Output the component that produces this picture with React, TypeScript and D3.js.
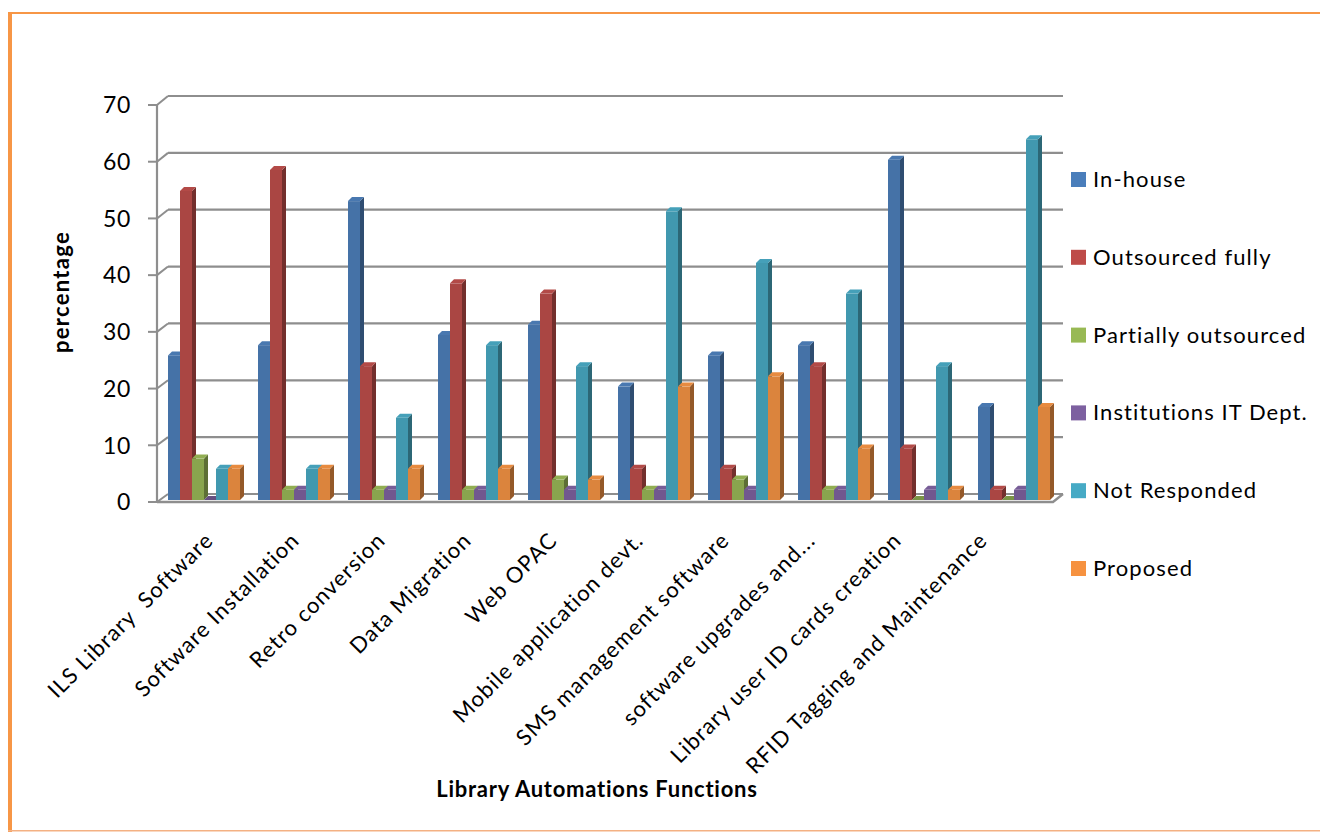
import React, { useEffect, useRef } from "react";
import * as d3 from "d3";

const categories = [
  "ILS Library  Software",
  "Software Installation",
  "Retro conversion",
  "Data Migration",
  "Web OPAC",
  "Mobile application devt.",
  "SMS management software",
  "software upgrades and...",
  "Library user ID cards creation",
  "RFID Tagging and Maintenance",
];

const seriesNames = [
  "In-house",
  "Outsourced fully",
  "Partially outsourced",
  "Institutions IT Dept.",
  "Not Responded",
  "Proposed",
];

const inHouse = [25.5, 27.3, 52.7, 29.1, 30.9, 20.0, 25.5, 27.3, 60.0, 16.4];
const outsourcedFully = [54.5, 58.2, 23.6, 38.2, 36.4, 5.5, 5.5, 23.6, 9.1, 1.8];
const partiallyOutsourced = [7.3, 1.8, 1.8, 1.8, 3.6, 1.8, 3.6, 1.8, 0, 0];
const institutionsIT = [0, 1.8, 1.8, 1.8, 1.8, 1.8, 1.8, 1.8, 1.8, 1.8];
const notResponded = [5.5, 5.5, 14.5, 27.3, 23.6, 50.9, 41.8, 36.4, 23.6, 63.6];
const proposed = [5.5, 5.5, 5.5, 5.5, 3.6, 20.0, 21.8, 9.1, 1.8, 16.4];

const yTicks = [0, 10, 20, 30, 40, 50, 60, 70];

const seriesValues = [inHouse, outsourcedFully, partiallyOutsourced, institutionsIT, notResponded, proposed];
const frontColors = ["#4572A7", "#AA4643", "#89A54E", "#71588F", "#4198AF", "#DB843D"];
const legendColors = ["#4A7EBB", "#BE4B48", "#98B954", "#7D60A0", "#46AAC5", "#F69240"];

const FONT = "Lato, 'Open Sans', sans-serif";

export default function App() {
  const ref = useRef<SVGSVGElement | null>(null);

  useEffect(() => {
    const svg = d3.select(ref.current);
    svg.selectAll("*").remove();

    // page frame
    svg.append("rect").attr("x", 0).attr("y", 0).attr("width", 1320).attr("height", 832).attr("fill", "#ffffff");
    svg.append("line").attr("x1", 8).attr("x2", 1320).attr("y1", 13).attr("y2", 13).attr("stroke", "#F79646").attr("stroke-width", 2);
    svg.append("line").attr("x1", 10).attr("x2", 10).attr("y1", 12).attr("y2", 832).attr("stroke", "#F79646").attr("stroke-width", 4);
    svg.append("line").attr("x1", 8).attr("x2", 1320).attr("y1", 830.8).attr("y2", 830.8).attr("stroke", "#F4B183").attr("stroke-width", 1.5);

    // 3D geometry
    const axisX = 157;
    const backX = 168;
    const backRight = 1063;
    const floorFront = 502;
    const depthDx = 11;

    const yFront = d3.scaleLinear().domain([0, 70]).range([502, 105]);
    const yBack = d3.scaleLinear().domain([0, 70]).range([494, 96]);
    const yBar = d3.scaleLinear().domain([0, 70]).range([500, 103]);

    const x0 = d3.scaleBand<string>().domain(categories).range([159, 1059]).paddingInner(0.2).paddingOuter(0.1);
    const x1 = d3.scaleBand<string>().domain(seriesNames).range([0, x0.bandwidth()]);
    // category labels sit on the projected front edge of the floor
    const xLabel = d3.scalePoint<string>().domain(categories).range([205, 979]);

    const gridColor = "#8E8E8E";
    const g = svg.append("g");

    // back wall gridlines
    g.selectAll("line.grid")
      .data(yTicks)
      .join("line")
      .attr("class", "grid")
      .attr("x1", backX)
      .attr("x2", backRight)
      .attr("y1", (d) => yBack(d))
      .attr("y2", (d) => yBack(d))
      .attr("stroke", gridColor)
      .attr("stroke-width", 2.2);

    // connectors from the front axis to the back wall
    g.selectAll("path.conn")
      .data(yTicks)
      .join("path")
      .attr("class", "conn")
      .attr("d", (d) => `M${axisX},${yFront(d)} L${backX},${yBack(d)}`)
      .attr("stroke", gridColor)
      .attr("stroke-width", 2)
      .attr("fill", "none");

    // floor
    g.append("path")
      .attr("d", `M${axisX},${floorFront} L${backRight - depthDx + 1},${floorFront} L${backRight},${yBack(0)}`)
      .attr("stroke", gridColor)
      .attr("stroke-width", 2.4)
      .attr("fill", "none");

    // front value axis
    g.append("line")
      .attr("x1", axisX).attr("x2", axisX)
      .attr("y1", yFront(70)).attr("y2", floorFront)
      .attr("stroke", gridColor).attr("stroke-width", 2.2);
    g.selectAll("line.tick")
      .data(yTicks)
      .join("line")
      .attr("class", "tick")
      .attr("x1", axisX - 9).attr("x2", axisX)
      .attr("y1", (d) => yFront(d)).attr("y2", (d) => yFront(d))
      .attr("stroke", gridColor).attr("stroke-width", 2);
    g.selectAll("text.tl")
      .data(yTicks)
      .join("text")
      .attr("class", "tl")
      .attr("x", 131)
      .attr("y", (d) => yFront(d))
      .attr("dy", "0.36em")
      .attr("text-anchor", "end")
      .attr("font-family", FONT)
      .attr("font-size", 23)
      .attr("letter-spacing", 0.6)
      .attr("fill", "#000")
      .text((d) => String(d));

    // bars
    const bw = x1.bandwidth();
    const dx = 4;
    const dy = 4;
    const base = yBar(0);
    const shade = (c: string, k: number) => d3.color(c)!.darker(k).formatHex();
    const light = (c: string, k: number) => d3.color(c)!.brighter(k).formatHex();

    categories.forEach((cat, ci) => {
      const gx = x0(cat)!;
      seriesNames.forEach((s, si) => {
        const v = seriesValues[si][ci];
        const x = gx + x1(s)!;
        const y = yBar(v);
        const col = frontColors[si];
        const bg = g.append("g");
        if (v > 0) {
          bg.append("rect").attr("x", x).attr("y", y).attr("width", bw).attr("height", base - y).attr("fill", col);
          bg.append("path")
            .attr("d", `M${x + bw},${y} L${x + bw + dx},${y - dy} L${x + bw + dx},${base - dy} L${x + bw},${base} Z`)
            .attr("fill", shade(col, 1.1));
        }
        bg.append("path")
          .attr("d", `M${x},${y} L${x + dx},${y - dy} L${x + bw + dx},${y - dy} L${x + bw},${y} Z`)
          .attr("fill", v > 0 ? light(col, 0.15) : shade(col, 0.3));
      });
    });

    // category labels
    categories.forEach((cat) => {
      const cx = xLabel(cat)!;
      svg.append("text")
        .attr("transform", `translate(${cx},${529}) rotate(-45)`)
        .attr("text-anchor", "end")
        .attr("dy", "0.72em")
        .attr("dx", "-0.1em")
        .attr("font-family", FONT)
        .attr("font-size", 22)
        .attr("letter-spacing", 1.1)
        .attr("fill", "#000")
        .attr("style", "white-space: pre")
        .text(cat);
    });

    // axis titles
    svg.append("text")
      .attr("x", 597).attr("y", 797)
      .attr("text-anchor", "middle")
      .attr("font-family", FONT)
      .attr("font-weight", "bold")
      .attr("font-size", 22)
      .attr("letter-spacing", 0.75)
      .attr("fill", "#000")
      .text("Library Automations Functions");
    svg.append("text")
      .attr("transform", "translate(69,292) rotate(-90)")
      .attr("text-anchor", "middle")
      .attr("font-family", FONT)
      .attr("font-weight", "bold")
      .attr("font-size", 22)
      .attr("letter-spacing", 1.3)
      .attr("fill", "#000")
      .text("percentage");

    // legend
    const ly = d3.scalePoint<string>().domain(seriesNames).range([179, 568]);
    seriesNames.forEach((s, i) => {
      const y = ly(s)!;
      svg.append("rect").attr("x", 1071).attr("y", y - 7).attr("width", 15).attr("height", 15).attr("fill", legendColors[i]);
      svg.append("text")
        .attr("x", 1093).attr("y", y)
        .attr("dy", "0.36em")
        .attr("font-family", FONT)
        .attr("font-size", 22)
        .attr("letter-spacing", 1.1)
        .attr("fill", "#000")
        .text(s);
    });
  }, []);

  return (
    <svg
      ref={ref}
      width={1320}
      height={832}
      style={{ position: "absolute", left: 0, top: 0, display: "block" }}
    />
  );
}
